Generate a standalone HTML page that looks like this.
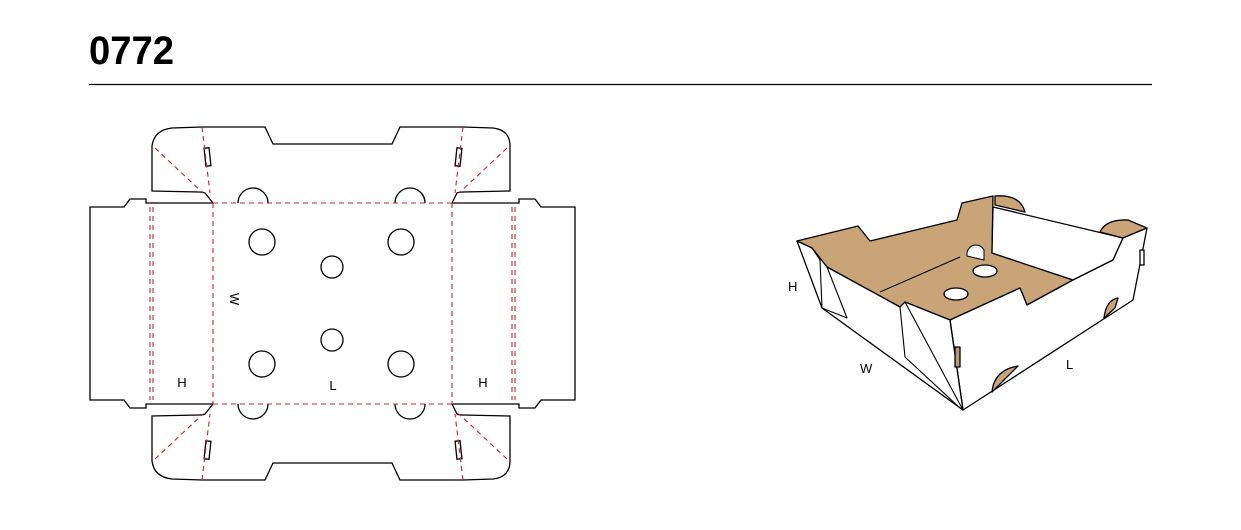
<!DOCTYPE html>
<html><head><meta charset="utf-8"><style>
html,body{margin:0;padding:0;background:#fff;}
svg{display:block}
</style></head><body>
<svg width="1241" height="530" viewBox="0 0 1241 530" xmlns="http://www.w3.org/2000/svg" font-family="Liberation Sans, sans-serif">
<text x="89" y="64" font-size="40" font-weight="bold" textLength="85" lengthAdjust="spacingAndGlyphs">0772</text>
<line x1="89" y1="84.5" x2="1152" y2="84.5" stroke="#000" stroke-width="1.2"/>
<g fill="none" stroke="#000" stroke-width="1.3">
<g id="top">
<path d="M213,203 L205,193 Q203,192 199,192 L152,191 L152,146 Q154,130 172,128 L202,127 L265,127 L273,144 L392,144 L400,127 L463,127 L493,128 Q510,130 510,146 L510,191 L463,192 Q459,192 457,193 L452,203"/>
<path d="M238,203 A15,15 0 0 1 268,203"/>
<path d="M395,203 A15,15 0 0 1 425,203"/>
<rect x="205" y="148" width="5" height="18" transform="rotate(-6 207 157)"/>
<rect x="456" y="148" width="5" height="18" transform="rotate(6 458 157)"/>
<g stroke="#c0282f" stroke-dasharray="5,4" stroke-width="1.1">
<line x1="202" y1="127" x2="210" y2="193"/>
<line x1="155" y1="148" x2="203" y2="193"/>
<line x1="463" y1="127" x2="455" y2="193"/>
<line x1="507" y1="148" x2="459" y2="193"/>
</g>
</g>
<use href="#top" transform="translate(0,607) scale(1,-1)"/>
<path d="M213,203 L150,203 L146,203 L146,199 L130,199 L124,207 L90,207 L90,400 L124,400 L130,408 L146,408 L146,404 L213,404"/>
<path d="M452,203 L519,203 L519,199 L535,199 L541,207 L575,207 L575,400 L541,400 L535,408 L519,408 L519,404 L452,404"/>
<g stroke="#c0282f" stroke-dasharray="5,4" stroke-width="1.1">
<line x1="213" y1="203" x2="452" y2="203"/>
<line x1="213" y1="404" x2="452" y2="404"/>
<line x1="213" y1="203" x2="213" y2="404"/>
<line x1="452" y1="203" x2="452" y2="404"/>
<line x1="150" y1="207" x2="150" y2="400"/>
<line x1="153" y1="207" x2="153" y2="400"/>
<line x1="512" y1="207" x2="512" y2="400"/>
<line x1="515" y1="207" x2="515" y2="400"/>
</g>
<circle cx="262" cy="242" r="13"/><circle cx="401" cy="242" r="13"/>
<circle cx="332" cy="267" r="11"/><circle cx="332" cy="340" r="11"/>
<circle cx="262" cy="364" r="13"/><circle cx="401" cy="364" r="13"/>
</g>
<g font-size="13" fill="#000">
<text x="226" y="303" transform="rotate(90 230 303)" text-anchor="middle">W</text>
<text x="182" y="387" text-anchor="middle">H</text>
<text x="333" y="390" text-anchor="middle">L</text>
<text x="483" y="387" text-anchor="middle">H</text>
</g>
<!-- 3D box -->
<g stroke="#000" stroke-width="1.3" stroke-linejoin="round">
<polygon points="797,241 858,226 870,241 957,220 962,203 993,196 992,253 1073,280 1027,305 1020,288 950,320 905,302 900,307 827,267 812,248" fill="#c8a477"/>
<polygon points="993,207 1123,238 1113,260 1073,280 992,253" fill="#fff"/>
<path d="M995,196 Q1020,194 1025,212 L995,205Z" fill="#c8a477"/>
<path d="M1100,232 Q1106,219 1128,220 L1147,228 L1123,238Z" fill="#c8a477"/>
<path d="M967,253 A9,9 0 0 1 984,250 L984,260 L967,256Z" fill="#fff" stroke-width="1"/>
<polygon points="950,320 1020,288 1027,305 1073,280 1113,260 1123,238 1147,228 1133,300 963,410" fill="#fff"/>
<polygon points="797,241 812,248 827,267 900,307 905,302 950,320 963,410 822,308" fill="#fff"/>
<path d="M900,307 L905,357 L960,408" fill="none" stroke-width="1.1"/>
<line x1="905" y1="302" x2="963" y2="410" stroke-width="1.1"/>
<path d="M812,248 L820,260 L822,308" fill="none" stroke-width="1.1"/>
<path d="M827,267 L847,318 L822,308" fill="none" stroke-width="1.1"/>
<line x1="880" y1="292" x2="960" y2="257" stroke-width="1"/>
<line x1="950" y1="320" x2="963" y2="410" stroke-width="1.1"/>
<ellipse cx="985" cy="271" rx="12" ry="6" fill="#fff"/>
<ellipse cx="956" cy="294" rx="12" ry="6" fill="#fff"/>
<path d="M992,392 Q994,370 1018,366 L992,392Z" fill="#c8a477"/>
<path d="M1104,318 Q1106,300 1118,298 L1115,308Z" fill="#c8a477"/>
<rect x="955" y="347" width="5" height="20" fill="#b89a70"/>
<rect x="1140" y="250" width="4" height="15" fill="#fff"/>
</g>
<g font-size="13" fill="#000">
<text x="788" y="291">H</text>
<text x="860" y="373">W</text>
<text x="1066" y="369">L</text>
</g>
</svg>
</body></html>
